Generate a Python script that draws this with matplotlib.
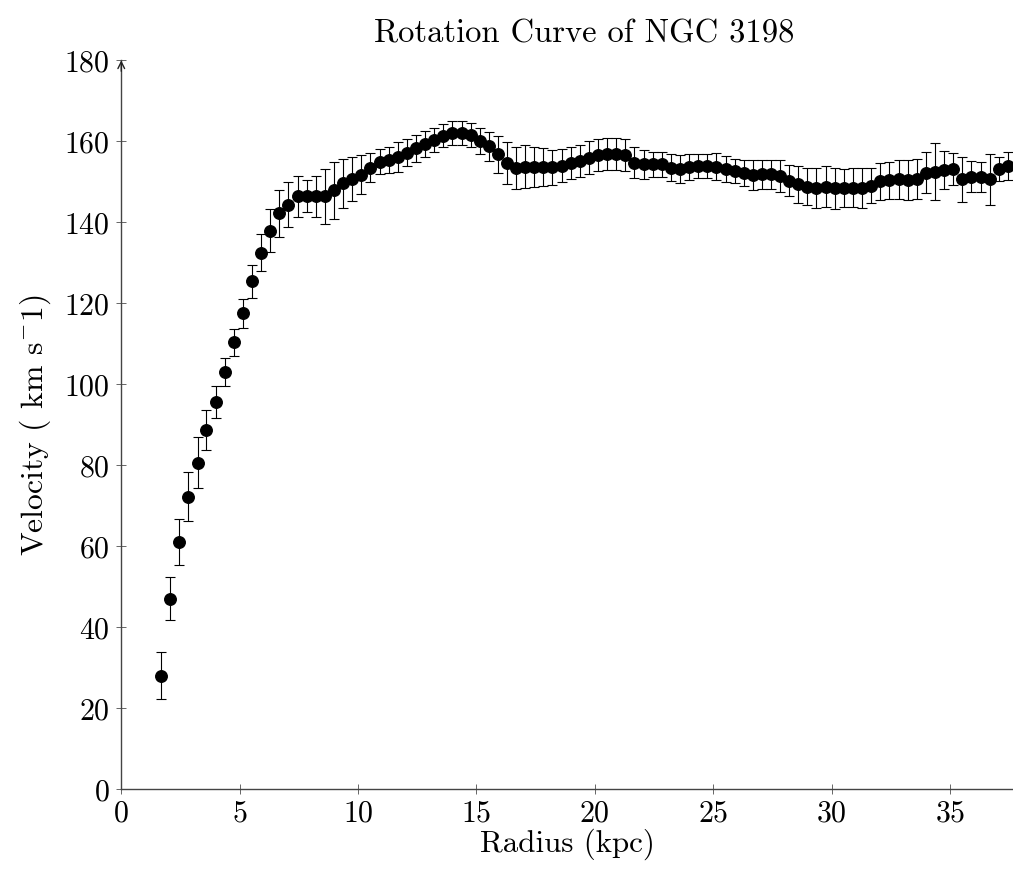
import matplotlib
matplotlib.use("Agg")
import matplotlib.pyplot as plt

plt.rcParams['font.family'] = ['cmr10', 'DejaVu Serif']
plt.rcParams['mathtext.fontset'] = 'cm'
plt.rcParams['axes.formatter.use_mathtext'] = True

radius = [1.68, 2.06, 2.45, 2.83, 3.22, 3.60, 3.99, 4.37, 4.76, 5.14,
          5.53, 5.91, 6.29, 6.68, 7.06, 7.45, 7.83, 8.22, 8.60, 8.99,
          9.37, 9.75, 10.14, 10.52, 10.91, 11.29, 11.68, 12.06, 12.45, 12.83,
          13.22, 13.60, 13.98, 14.37, 14.75, 15.14, 15.52, 15.91, 16.29, 16.68,
          17.06, 17.44, 17.83, 18.21, 18.60, 18.98, 19.37, 19.75, 20.14, 20.52,
          20.91, 21.29, 21.67, 22.06, 22.44, 22.83, 23.21, 23.60, 23.98, 24.37,
          24.75, 25.13, 25.52, 25.90, 26.29, 26.67, 27.06, 27.44, 27.83, 28.21,
          28.60, 28.98, 29.36, 29.75, 30.13, 30.52, 30.90, 31.29, 31.67, 32.06,
          32.44, 32.83, 33.21, 33.59, 33.98, 34.36, 34.75, 35.13, 35.52, 35.90,
          36.29, 36.67, 37.06, 37.44]

velocity = [28.1, 47.1, 61.0, 72.3, 80.7, 88.7, 95.6, 103.1, 110.4, 117.5,
            125.4, 132.5, 137.9, 142.2, 144.4, 146.4, 146.5, 146.4, 146.4, 147.9,
            149.6, 150.7, 151.8, 153.5, 155.0, 155.5, 156.2, 157.2, 158.3, 159.3,
            160.4, 161.4, 162.1, 162.1, 161.6, 160.0, 158.8, 156.8, 154.6, 153.5,
            153.7, 153.7, 153.7, 153.6, 154.0, 154.6, 155.2, 156.0, 156.6, 156.9,
            156.9, 156.6, 154.7, 154.3, 154.3, 154.3, 153.5, 153.2, 153.7, 153.9,
            153.9, 153.7, 153.1, 152.7, 152.2, 151.7, 151.9, 151.9, 151.4, 150.3,
            149.4, 148.8, 148.4, 148.8, 148.4, 148.5, 148.6, 148.4, 149.0, 150.1,
            150.4, 150.6, 150.5, 150.7, 152.3, 152.5, 152.9, 153.2, 150.6, 151.3,
            151.3, 150.6, 153.2, 153.9]

error = [5.7, 5.3, 5.7, 6.0, 6.4, 5.0, 4.0, 3.5, 3.3, 3.5,
         4.0, 4.6, 5.3, 5.9, 5.5, 5.0, 3.9, 5.0, 6.7, 7.0,
         6.1, 5.5, 4.8, 3.6, 3.0, 3.2, 3.7, 3.3, 3.3, 3.2,
         3.0, 2.8, 2.9, 3.0, 3.0, 3.2, 3.6, 4.6, 5.2, 5.2,
         5.3, 5.0, 4.7, 4.3, 4.1, 4.0, 3.9, 4.0, 4.0, 3.9,
         3.9, 4.0, 3.8, 3.6, 3.1, 3.0, 3.3, 3.5, 3.2, 3.0,
         3.0, 3.3, 3.2, 3.0, 3.3, 3.6, 3.6, 3.6, 3.9, 3.8,
         4.6, 4.6, 4.9, 5.0, 5.0, 4.7, 4.8, 4.9, 4.3, 4.5,
         4.6, 4.8, 5.0, 5.0, 5.0, 7.0, 4.6, 4.0, 5.5, 3.8,
         3.7, 6.3, 3.0, 3.4]

xticks = [0, 5, 10, 15, 20, 25, 30, 35]
yticks = [0, 20, 40, 60, 80, 100, 120, 140, 160, 180]

fig = plt.figure(figsize=(10.13, 8.72), dpi=100)
ax = fig.add_axes([0.1197, 0.0948, 0.8803, 0.836])

ax.errorbar(radius, velocity, yerr=error, fmt='o', color='black',
            markersize=8.3, ecolor='black', elinewidth=0.8, capsize=3.6,
            capthick=0.8, clip_on=False, zorder=3)

ax.set_xlim(0, 37.66)
ax.set_ylim(0, 180)
ax.set_xticks(xticks)
ax.set_yticks(yticks)

for s in ['top', 'right']:
    ax.spines[s].set_visible(False)
for s in ['left', 'bottom']:
    ax.spines[s].set_color('#444444')
    ax.spines[s].set_linewidth(1.0)

ax.tick_params(direction='inout', length=7, width=0.7, color='#666666',
               labelsize=21.5, pad=4)
ax.tick_params(axis='y', pad=5)

ax.annotate('', xy=(0, 1.0), xytext=(0, 0.985), xycoords='axes fraction',
            arrowprops=dict(arrowstyle='->', lw=1.0, color='#222222',
                            mutation_scale=12, shrinkA=0, shrinkB=0))

ax.set_xlabel('Radius (kpc)', fontsize=22.3, labelpad=1)
ax.set_ylabel(r'Velocity ( km s$^{-}$1)', fontsize=22.8, labelpad=8)
ax.set_title('Rotation Curve of NGC 3198', fontsize=23.5, x=0.519, pad=13)

fig.savefig('out.png', dpi=100)
